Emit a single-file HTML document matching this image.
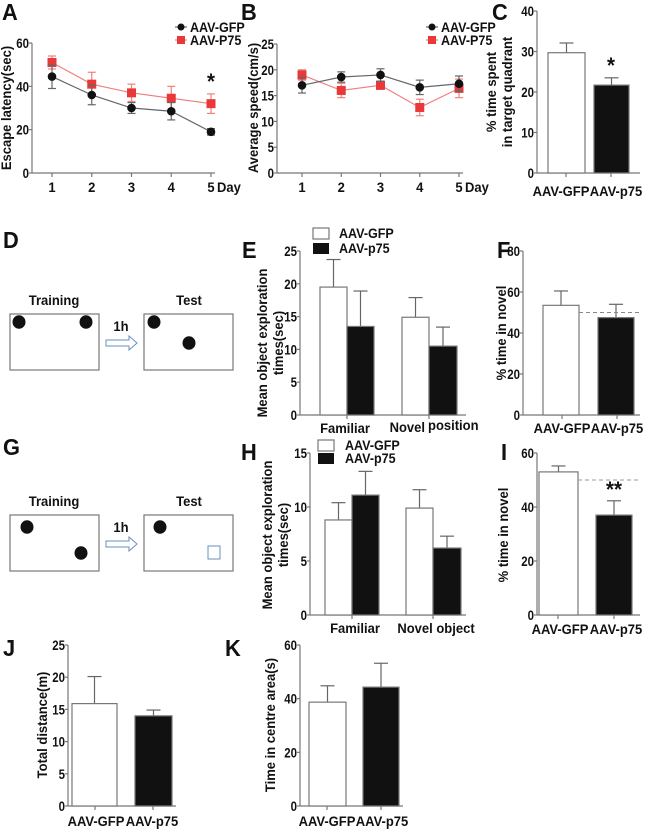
<!DOCTYPE html>
<html><head><meta charset="utf-8"><style>
html,body{margin:0;padding:0;background:#fff}
svg{display:block;font-family:"Liberation Sans",Arial,sans-serif;font-weight:bold}
</style></head><body>
<svg id="fig" width="650" height="833" viewBox="0 0 650 833" xmlns="http://www.w3.org/2000/svg"></svg>
<script>
// Panel A data
const daysA = [1,2,3,4,5];
const aGfp = [44.5,36,30,28.5,19];
const aGfpErr = [5.5,4.5,2.5,4,1.5];
const aP75 = [51,41,37,34.5,32];
const aP75Err = [3,5.5,4,5.5,4.5];
const aTicks = [0,20,40,60];
// Panel B data
const bGfp = [17,18.6,19,16.6,17.3];
const bGfpErr = [1.5,1,1.2,1.4,1.5];
const bP75 = [19,16,17,12.7,16.4];
const bP75Err = [1,1.4,0.8,1.6,1.8];
const bTicks = [0,5,10,15,20,25];
// Panel C
const cGroups = ["AAV-GFP","AAV-p75"];
const cVals = [29.7,21.7];
const cErr = [2.4,1.8];
const cTicks = [0,10,20,30,40];
// Panel E
const eVals = [19.5,13.5,14.9,10.5];
const eErr = [4.2,5.4,3,2.9];
const eTicks = [0,5,10,15,20,25];
// Panel F
const fVals = [53.5,47.5];
const fErr = [7,6.5];
const fTicks = [0,20,40,60,80];
// Panel H
const hVals = [8.8,11.1,9.9,6.2];
const hErr = [1.6,2.2,1.7,1.1];
const hTicks = [0,5,10,15];
// Panel I
const iVals = [53,37];
const iErr = [2.2,5.3];
const iTicks = [0,20,40,60];
// Panel J
const jVals = [15.9,14];
const jErr = [4.2,0.9];
const jTicks = [0,5,10,15,20,25];
// Panel K
const kVals = [38.7,44.3];
const kErr = [6.1,8.9];
const kTicks = [0,20,40,60];

const NS="http://www.w3.org/2000/svg";
const svg=document.getElementById('fig');
function el(tag,attrs,parent,text){
  const e=document.createElementNS(NS,tag);
  for(const k in attrs) e.setAttribute(k,attrs[k]);
  if(text!==undefined) e.textContent=text;
  (parent||svg).appendChild(e);
  return e;
}
function txt(x,y,s,size,anchor,parent,rot,sx){
  if(sx===undefined) sx=0.93;
  const a={x:0,y:0,'font-size':size,'text-anchor':anchor||'middle',fill:'#111'};
  a.transform='translate('+x+' '+y+')'+(rot?' rotate(-90)':'')+' scale('+sx+' 1)';
  return el('text',a,parent,s);
}
function scale(d0,d1,r0,r1){return v=>r0+(v-d0)/(d1-d0)*(r1-r0);}
function yAxis(g,x,y0,y1,ticks){
  const ys=scale(ticks[0],ticks[ticks.length-1],y0,y1);
  el('line',{x1:x,y1:y0,x2:x,y2:y1,stroke:'#777','stroke-width':1.2},g);
  ticks.forEach(t=>{
    el('line',{x1:x-3,y1:ys(t),x2:x,y2:ys(t),stroke:'#777','stroke-width':1.2},g);
    txt(x-3,ys(t)+5,String(t),13.5,'end',g,false,0.85);
  });
  return ys;
}
function panelLetter(x,y,s){
  const t=txt(x,y,s,23,'start',svg,false,0.95);
  
  
}
function errBar(g,cx,y,yTop,w){
  el('line',{x1:cx,y1:y,x2:cx,y2:yTop,stroke:'#666','stroke-width':1.2},g);
  el('line',{x1:cx-w,y1:yTop,x2:cx+w,y2:yTop,stroke:'#666','stroke-width':1.2},g);
}
function barChart(name,opt){
  const g=el('g',{},svg);
  
  
  const ys=yAxis(g,opt.ax,opt.y0,opt.y1,opt.ticks);
  el('line',{x1:opt.ax,y1:opt.y0,x2:opt.axEnd,y2:opt.y0,stroke:'#777','stroke-width':1.2},g);
  opt.vals.forEach((v,i)=>{
    const x0=opt.bx[i][0],x1=opt.bx[i][1];
    const dark=opt.dark[i];
    const cx=(x0+x1)/2;
    errBar(g,cx,ys(v),ys(v+opt.err[i]),7);
    const r=el('rect',{x:x0,y:ys(v),width:x1-x0,height:opt.y0-ys(v),fill:dark?'#111':'#fff',stroke:'#777','stroke-width':1.2},g);
    
    
  });
  (opt.tickX||[]).forEach(x=>el('line',{x1:x,y1:opt.y0,x2:x,y2:opt.y0+4,stroke:'#777','stroke-width':1.2},g));
  return {g:g,ys:ys};
}
function lineChart(name,opt){
  const g=el('g',{},svg);
  
  
  const ys=yAxis(g,opt.ax,opt.y0,opt.y1,opt.ticks);
  const xs=scale(1,5,opt.x1,opt.x5);
  el('line',{x1:opt.ax,y1:opt.y0,x2:opt.x5+4,y2:opt.y0,stroke:'#777','stroke-width':1.2},g);
  daysA.forEach(d=>{
    el('line',{x1:xs(d),y1:opt.y0,x2:xs(d),y2:opt.y0+4,stroke:'#777','stroke-width':1.2},g);
    txt(xs(d),opt.y0+19,String(d),14,'middle',g);
  });
  txt(xs(5)+6,opt.y0+19,'Day',14,'start',g);
  const series=[[opt.p75,opt.p75Err,'#e8383a','#f08080','sq'],[opt.gfp,opt.gfpErr,'#111','#666','ci']];
  series.forEach(s=>{
    const [vals,err,col,lc,shape]=s;
    const pts=vals.map((v,i)=>xs(daysA[i])+','+ys(v)).join(' ');
    el('polyline',{points:pts,fill:'none',stroke:lc,'stroke-width':1.2},g);
    vals.forEach((v,i)=>{
      const x=xs(daysA[i]);
      el('line',{x1:x,y1:ys(v-err[i]),x2:x,y2:ys(v+err[i]),stroke:lc,'stroke-width':1.2},g);
      el('line',{x1:x-4,y1:ys(v-err[i]),x2:x+4,y2:ys(v-err[i]),stroke:lc,'stroke-width':1.2},g);
      el('line',{x1:x-4,y1:ys(v+err[i]),x2:x+4,y2:ys(v+err[i]),stroke:lc,'stroke-width':1.2},g);
      let m;
      if(shape==='sq') m=el('rect',{x:x-4.5,y:ys(v)-4.5,width:9,height:9,fill:col},g);
      else m=el('circle',{cx:x,cy:ys(v),r:4.3,fill:col},g);
      
      
    });
  });
  const lg=el('g',{},g);
  
  
  el('line',{x1:opt.lx-6,y1:27,x2:opt.lx+6,y2:27,stroke:'#666','stroke-width':1.2},lg);
  el('circle',{cx:opt.lx,cy:27,r:3.5,fill:'#111'},lg);
  txt(opt.lx+9,32,'AAV-GFP',13.5,'start',lg);
  el('line',{x1:opt.lx-6,y1:40,x2:opt.lx+6,y2:40,stroke:'#f08080','stroke-width':1.2},lg);
  el('rect',{x:opt.lx-4,y:36,width:8,height:8,fill:'#e8383a'},lg);
  txt(opt.lx+9,45,'AAV-P75',13.5,'start',lg);
  return {g:g,ys:ys,xs:xs};
}
function barLegend(x,y1,y2,tx){
  const lg=el('g',{},svg);
  
  
  el('rect',{x:x,y:y1-5,width:16,height:11,fill:'#fff',stroke:'#777','stroke-width':1.2},lg);
  txt(tx,y1+5,'AAV-GFP',13.5,'start',lg);
  el('rect',{x:x,y:y2-5,width:16,height:11,fill:'#111'},lg);
  txt(tx,y2+5,'AAV-p75',13.5,'start',lg);
}
function diagram(name,top,dots,square){
  const g=el('g',{},svg);
  
  
  txt(54,top,'Training',14,'middle',g);
  txt(189,top,'Test',14,'middle',g);
  el('rect',{x:10,y:top+9,width:89,height:56,fill:'#fff',stroke:'#777','stroke-width':1.2},g);
  el('rect',{x:144,y:top+9,width:89,height:56,fill:'#fff',stroke:'#777','stroke-width':1.2},g);
  dots.forEach(d=>el('ellipse',{cx:d[0],cy:d[1],rx:6.5,ry:6.8,fill:'#111'},g));
  txt(121,top+26,'1h',14,'middle',g);
  const ay=top+38;
  el('path',{d:`M106 ${ay-3} L129 ${ay-3} L129 ${ay-7} L137 ${ay} L129 ${ay+7} L129 ${ay+3} L106 ${ay+3} Z`,fill:'#fff',stroke:'#6a8fc0','stroke-width':1},g);
  if(square) el('rect',{x:square[0],y:square[1],width:12,height:13,fill:'none',stroke:'#6a8fc0','stroke-width':1},g);
}

// Panel A
panelLetter(2,20,'A');
const A=lineChart('panel-a-escape-latency',{ax:32,y0:173,y1:43,ticks:aTicks,x1:52,x5:211,gfp:aGfp,gfpErr:aGfpErr,p75:aP75,p75Err:aP75Err,lx:181});
txt(11,108,'Escape latency(sec)',14,'middle',svg,true);
txt(211,A.ys(aP75[4]+aP75Err[4])-5,'*',22,'middle');

// Panel B
panelLetter(241,20,'B');
const B=lineChart('panel-b-average-speed',{ax:277,y0:173,y1:44,ticks:bTicks,x1:302,x5:459,gfp:bGfp,gfpErr:bGfpErr,p75:bP75,p75Err:bP75Err,lx:432});
txt(258,108,'Average speed(cm/s)',14,'middle',svg,true);

// Panel C
panelLetter(492,20,'C');
const C=barChart('panel-c-target-quadrant',{ax:537,axEnd:640,y0:173,y1:11,ticks:cTicks,vals:cVals,err:cErr,bx:[[548,585],[594,629]],dark:[false,true],tickX:[566,611]});
txt(496,92,'% time spent',14,'middle',svg,true);
txt(512,92,'in target quadrant',14,'middle',svg,true);
cGroups.forEach((s,i)=>txt([561,616][i],196,s,14,'middle'));
txt(611,C.ys(cVals[1]+cErr[1])-5,'*',22,'middle');

// Panel D
panelLetter(3,248,'D');
diagram('panel-d-diagram',305,[[19,322],[86,322],[154,322],[189,343]],null);

// Panel E
panelLetter(242,258,'E');
barLegend(313,233,248,339);
const E=barChart('panel-e-exploration',{ax:300,axEnd:466,y0:415,y1:251,ticks:eTicks,vals:eVals,err:eErr,bx:[[320,347],[347,374],[402,429],[429,457]],dark:[false,true,false,true],tickX:[347,429]});
txt(267,343,'Mean object exploration',14,'middle',svg,true);
txt(283,343,'times(sec)',14,'middle',svg,true);
txt(345,433,'Familiar',14,'middle');
txt(425,432,'Novel',14,'end');
txt(428,430,'position',14,'start');

// Panel F
panelLetter(497,258,'F');
const F=barChart('panel-f-novel-position',{ax:523,axEnd:640,y0:415,y1:251,ticks:fTicks,vals:fVals,err:fErr,bx:[[543,579],[598,634]],dark:[false,true],tickX:[562,617]});
el('line',{x1:579,y1:F.ys(50),x2:640,y2:F.ys(50),stroke:'#888','stroke-width':1,'stroke-dasharray':'4,3'});
txt(506,333,'% time in novel',14,'middle',svg,true);
txt(562,433,'AAV-GFP',14,'middle');
txt(617,433,'AAV-p75',14,'middle');

// Panel G
panelLetter(3,455,'G');
diagram('panel-g-diagram',506,[[27,527],[81,553],[160,527]],[208,546]);

// Panel H
panelLetter(241,460,'H');
barLegend(318,445,458,345);
const H=barChart('panel-h-exploration',{ax:310,axEnd:466,y0:615,y1:453,ticks:hTicks,vals:hVals,err:hErr,bx:[[325,352],[352,379],[406,433],[433,461]],dark:[false,true,false,true],tickX:[352,433]});
txt(272,535,'Mean object exploration',14,'middle',svg,true);
txt(288,535,'times(sec)',14,'middle',svg,true);
txt(355,633,'Familiar',14,'middle');
txt(436,633,'Novel object',14,'middle');

// Panel I
panelLetter(501,460,'I');
const I=barChart('panel-i-novel-object',{ax:537,axEnd:640,y0:615,y1:453,ticks:iTicks,vals:iVals,err:iErr,bx:[[539,578],[596,632]],dark:[false,true],tickX:[558,614]});
el('line',{x1:578,y1:I.ys(50),x2:638,y2:I.ys(50),stroke:'#999','stroke-width':1,'stroke-dasharray':'4,3'});
txt(508,535,'% time in novel',14,'middle',svg,true);
txt(614,I.ys(iVals[1]+iErr[1])-4,'**',22,'middle');
txt(560,634,'AAV-GFP',14,'middle');
txt(616,634,'AAV-p75',14,'middle');

// Panel J
panelLetter(3,656,'J');
const J=barChart('panel-j-total-distance',{ax:68,axEnd:176,y0:806,y1:645,ticks:jTicks,vals:jVals,err:jErr,bx:[[72,117],[135,172]],dark:[false,true],tickX:[95,153]});
txt(47,725,'Total distance(m)',14,'middle',svg,true);
txt(96,826,'AAV-GFP',14,'middle');
txt(152,826,'AAV-p75',14,'middle');

// Panel K
panelLetter(225,656,'K');
const K=barChart('panel-k-centre-time',{ax:300,axEnd:403,y0:806,y1:645,ticks:kTicks,vals:kVals,err:kErr,bx:[[309,346],[363,399]],dark:[false,true],tickX:[327,381]});
txt(275,725,'Time in centre area(s)',14,'middle',svg,true);
txt(327,826,'AAV-GFP',14,'middle');
txt(382,826,'AAV-p75',14,'middle');
</script>
</body></html>
